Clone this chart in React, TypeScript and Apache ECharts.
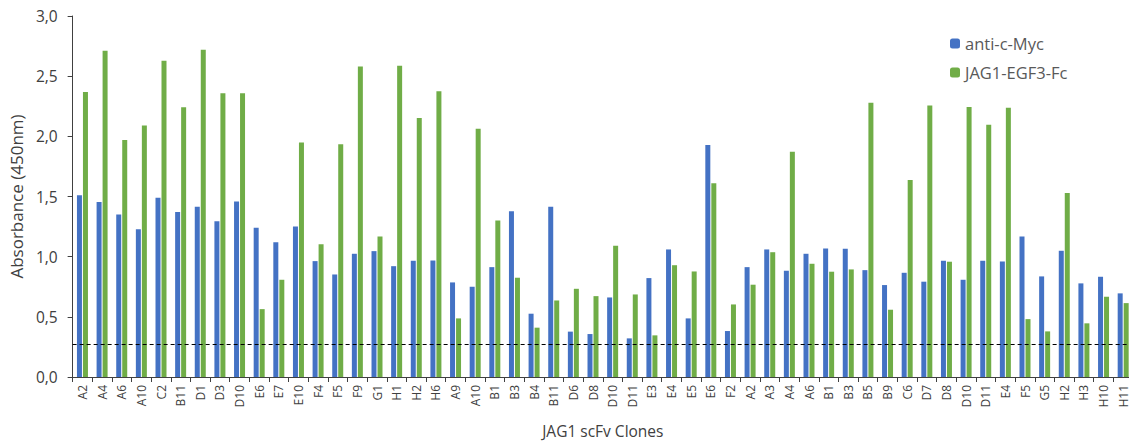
import React, { useEffect, useRef } from "react";
import * as echarts from "echarts";

const categories = [
  "A2", "A4", "A6", "A10", "C2", "B11", "D1", "D3", "D10", "E6", "E7", "E10", "F4", "F5", "F9", "G1",
  "H1", "H2", "H6", "A9", "A10", "B1", "B3", "B4", "B11", "D6", "D8", "D10", "D11", "E3", "E4", "E5",
  "E6", "F2", "A2", "A3", "A4", "A6", "B1", "B3", "B5", "B9", "C6", "D7", "D8", "D10", "D11", "E4",
  "F5", "G5", "H2", "H3", "H10", "H11",
];

const antiCMyc = [
  1.51, 1.455, 1.35, 1.228, 1.489, 1.372, 1.414, 1.295, 1.458, 1.24, 1.12, 1.251, 0.963, 0.852, 1.024, 1.046,
  0.921, 0.966, 0.968, 0.786, 0.75, 0.913, 1.378, 0.526, 1.414, 0.377, 0.357, 0.661, 0.321, 0.822, 1.06, 0.487,
  1.929, 0.382, 0.913, 1.06, 0.883, 1.024, 1.068, 1.066, 0.888, 0.764, 0.866, 0.792, 0.966, 0.808, 0.966, 0.96,
  1.168, 0.836, 1.049, 0.778, 0.833, 0.695,
];

const jag1EGF3Fc = [
  2.368, 2.711, 1.97, 2.089, 2.628, 2.241, 2.72, 2.357, 2.357, 0.564, 0.808, 1.948, 1.104, 1.934, 2.581, 1.168,
  2.587, 2.153, 2.374, 0.487, 2.064, 1.3, 0.825, 0.41, 0.636, 0.733, 0.672, 1.09, 0.686, 0.346, 0.929, 0.877,
  1.61, 0.603, 0.767, 1.037, 1.871, 0.941, 0.875, 0.894, 2.28, 0.559, 1.638, 2.257, 0.958, 2.244, 2.097, 2.238,
  0.481, 0.379, 1.53, 0.446, 0.667, 0.614,
];

const cutoff = 0.27;
const yTicks = { min: 0, max: 3, interval: 0.5 };

export default function App() {
  const ref = useRef<HTMLDivElement>(null);
  useEffect(() => {
    if (!ref.current) return;
    const chart = echarts.init(ref.current, undefined, { renderer: "svg" });
    const font = "'Open Sans', 'Noto Sans', sans-serif";
    chart.setOption({
      animation: false,
      textStyle: { fontFamily: font },
      grid: { left: 72, right: 1, top: 16, bottom: 66 },
      legend: {
        orient: "vertical",
        left: 945,
        top: 30,
        itemWidth: 10,
        itemHeight: 10,
        itemGap: 12,
        textStyle: { color: "#595959", fontSize: 16.5, fontFamily: font },
        data: ["anti-c-Myc", "JAG1-EGF3-Fc"],
      },
      xAxis: {
        type: "category",
        data: categories,
        boundaryGap: true,
        name: "JAG1 scFv Clones",
        nameLocation: "middle",
        nameGap: 46,
        nameTextStyle: { color: "#404040", fontSize: 15.5, fontFamily: font },
        axisLine: { lineStyle: { color: "#404040", width: 1 } },
        axisTick: { show: true, alignWithLabel: false, interval: 0, length: 5, lineStyle: { color: "#404040" } },
        axisLabel: { rotate: 90, interval: 0, color: "#404040", fontSize: 12, margin: 8, fontFamily: font },
      },
      yAxis: {
        type: "value",
        min: yTicks.min,
        max: yTicks.max,
        interval: yTicks.interval,
        name: "Absorbance (450nm)",
        nameLocation: "middle",
        nameGap: 45,
        nameTextStyle: { color: "#404040", fontSize: 17, fontFamily: font },
        splitLine: { show: false },
        axisLine: { show: true, lineStyle: { color: "#404040", width: 1 } },
        axisTick: { show: true, length: 5, lineStyle: { color: "#404040" } },
        axisLabel: {
          color: "#404040",
          fontSize: 15.5,
          margin: 15,
          fontFamily: font,
          formatter: (v: number) => v.toFixed(1).replace(".", ","),
        },
      },
      series: [
        {
          name: "anti-c-Myc",
          type: "bar",
          data: antiCMyc,
          barWidth: 5,
          barGap: "20%",
          itemStyle: { color: "#4472C4" },
          markLine: {
            silent: true,
            symbol: "none",
            label: { show: false },
            lineStyle: { color: "#000", type: [4, 3], width: 1 },
            data: [{ yAxis: cutoff }],
          },
        },
        {
          name: "JAG1-EGF3-Fc",
          type: "bar",
          data: jag1EGF3Fc,
          barWidth: 5,
          barGap: "20%",
          itemStyle: { color: "#70AD47" },
        },
      ],
    });
    return () => chart.dispose();
  }, []);
  return (
    <div style={{ position: "fixed", left: 0, top: 0, width: 1129, height: 444, overflow: "hidden", background: "#fff" }}>
      <div ref={ref} style={{ width: 1134, height: 444 }} />
    </div>
  );
}
